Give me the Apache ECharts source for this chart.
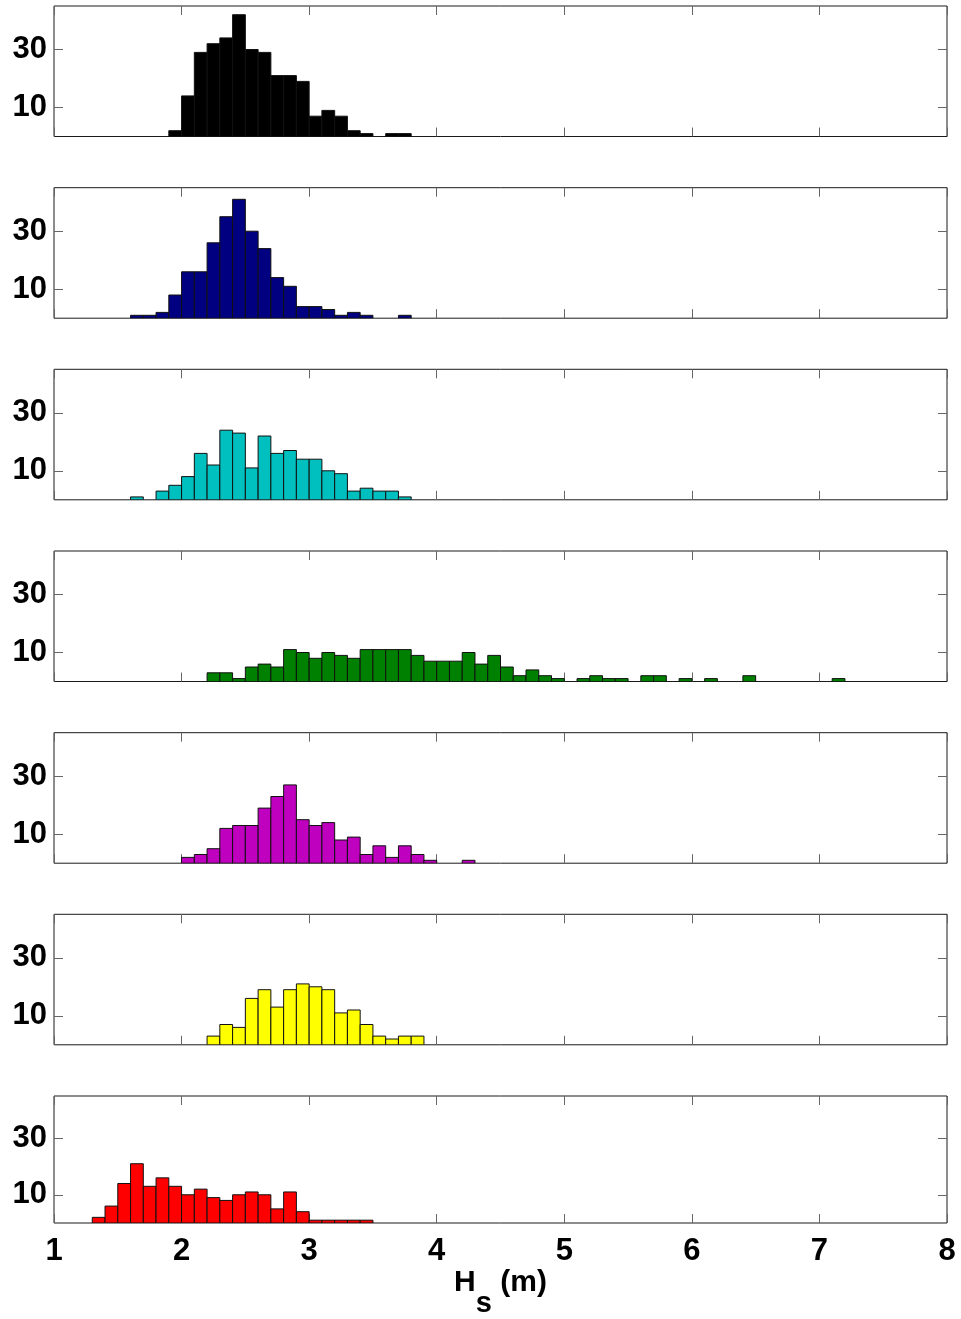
<!DOCTYPE html>
<html><head><meta charset="utf-8">
<script src="https://cdn.jsdelivr.net/npm/echarts@6/dist/echarts.min.js"></script>
<style>html,body{margin:0;padding:0;background:#fff}#c{width:961px;height:1319px}</style>
</head><body><div id="c"></div>
<script>
// Histogram bin width (m)
const BIN = 0.1;
// Axis ticks
const xTickValues = [1, 2, 3, 4, 5, 6, 7, 8];
const yTickValues = [10, 30];
const panelColors = ['#000000', '#000080', '#00BFBF', '#008000', '#BF00BF', '#FFFF00', '#FF0000'];

// Panel data: lower edge of first bin and counts per 0.1 m bin
const start1 = 1.9;
const counts1 = [2, 14, 29, 32, 34, 42, 30, 29, 21, 21, 19, 7, 9, 7, 2, 1, 0, 1, 1];
const start2 = 1.6;
const counts2 = [1, 1, 2, 8, 16, 16, 26, 35, 41, 30, 24, 14, 11, 4, 4, 3, 1, 2, 1, 0, 0, 1];
const start3 = 1.6;
const counts3 = [1, 0, 3, 5, 8, 16, 12, 24, 23, 11, 22, 16, 17, 14, 14, 10, 9, 3, 4, 3, 3, 1];
const start4 = 2.2;
const counts4 = [3, 3, 1, 5, 6, 5, 11, 10, 8, 10, 9, 8, 11, 11, 11, 11, 9, 7, 7, 7,
                 10, 6, 9, 5, 2, 4, 2, 1, 0, 1, 2, 1, 1, 0, 2, 2, 0, 1, 0, 1,
                 0, 0, 2, 0, 0, 0, 0, 0, 0, 1];
const start5 = 2.0;
const counts5 = [2, 3, 5, 12, 13, 13, 19, 23, 27, 15, 13, 14, 8, 9, 3, 6, 2, 6, 3, 1, 0, 0, 1];
const start6 = 2.2;
const counts6 = [3, 7, 6, 16, 19, 13, 19, 21, 20, 19, 11, 12, 7, 3, 2, 3, 3];
const start7 = 1.3;
const counts7 = [2, 6, 14, 21, 13, 16, 13, 10, 12, 9, 8, 10, 11, 10, 5, 11, 4, 1, 1, 1, 1, 1];

const panels = [
  [start1, counts1], [start2, counts2], [start3, counts3], [start4, counts4],
  [start5, counts5], [start6, counts6], [start7, counts7]
];

const FONT = '"Liberation Sans", Arial, Helvetica, sans-serif';
const tops = [6, 187.7, 369.3, 551, 732.7, 914.3, 1096];
const grids = [], xAxes = [], yAxes = [], series = [];

panels.forEach(([start, counts], i) => {
  const last = i === panels.length - 1;
  grids.push({left: 54, width: 893, top: tops[i], height: 130.5, show: true,
    borderColor: '#1a1a1a', borderWidth: 1, backgroundColor: 'transparent'});
  const tick = {show: true, inside: true, length: 9, lineStyle: {color: '#666', width: 1}};
  const noLine = {show: false, onZero: false};
  xAxes.push({
    gridIndex: i, type: 'value', min: 1, max: 8, interval: 1, position: 'bottom',
    axisLine: noLine, splitLine: {show: false},
    axisTick: Object.assign({customValues: xTickValues}, tick),
    axisLabel: {show: last, customValues: xTickValues, fontSize: 31, fontWeight: 'bold', color: '#000', margin: 13, fontFamily: FONT},
    name: last ? '{a|H}{b|s}{a| (m)}' : '',
    nameLocation: 'middle', nameGap: 45,
    nameTextStyle: {rich: {
      a: {fontSize: 30, fontWeight: 'bold', color: '#000', fontFamily: FONT, lineHeight: 30, verticalAlign: 'top'},
      b: {fontSize: 29, fontWeight: 'bold', color: '#000', fontFamily: FONT, lineHeight: 30, padding: [21, 0, 0, 0], verticalAlign: 'top'}
    }}
  });
  xAxes.push({
    gridIndex: i, type: 'value', min: 1, max: 8, interval: 1, position: 'top',
    axisLine: noLine, splitLine: {show: false},
    axisTick: Object.assign({customValues: xTickValues}, tick),
    axisLabel: {show: false}
  });
  yAxes.push({
    gridIndex: i, type: 'value', min: 0, max: 45, position: 'left',
    axisLine: noLine, splitLine: {show: false},
    axisTick: Object.assign({customValues: yTickValues}, tick),
    axisLabel: {customValues: yTickValues, fontSize: 31, fontWeight: 'bold', color: '#000', margin: 7, padding: [4, 0, 0, 0], fontFamily: FONT}
  });
  yAxes.push({
    gridIndex: i, type: 'value', min: 0, max: 45, position: 'right',
    axisLine: noLine, splitLine: {show: false},
    axisTick: Object.assign({customValues: yTickValues}, tick),
    axisLabel: {show: false}
  });
  const data = counts.map((c, k) => [Math.round((start + k * BIN) * 10) / 10, c]).filter(d => d[1] > 0);
  const color = panelColors[i];
  series.push({
    type: 'custom', xAxisIndex: 2 * i, yAxisIndex: 2 * i, data: data, clip: true,
    renderItem: function (params, api) {
      const x0 = api.value(0), h = api.value(1);
      const p0 = api.coord([x0, 0]);
      const p1 = api.coord([x0 + BIN, h]);
      return {type: 'rect', shape: {x: p0[0], y: p1[1], width: p1[0] - p0[0], height: p0[1] - p1[1]},
        style: {fill: color, stroke: '#111', lineWidth: 1}};
    }
  });
});

const chart = echarts.init(document.getElementById('c'), null, {renderer: 'canvas'});
chart.setOption({animation: false, backgroundColor: '#fff', grid: grids, xAxis: xAxes, yAxis: yAxes, series: series});
</script>
</body></html>
